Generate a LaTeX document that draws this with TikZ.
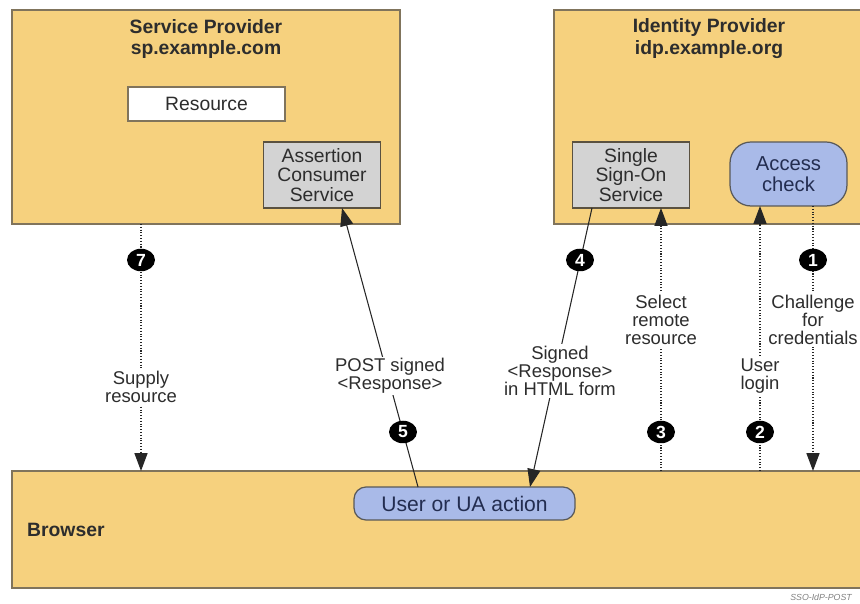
\documentclass[tikz,border=0pt]{standalone}
\usepackage{fontspec}
\setmainfont{Liberation Sans}
\usetikzlibrary{arrows.meta,shapes.geometric}
\definecolor{boxfill}{RGB}{246,209,126}
\definecolor{boxline}{RGB}{128,116,92}
\definecolor{svcfill}{RGB}{211,211,211}
\definecolor{actfill}{RGB}{169,186,232}
\definecolor{actink}{RGB}{35,45,80}
\definecolor{inkgray}{RGB}{45,45,45}

\begin{document}
\begin{tikzpicture}[x=0.02cm,y=-0.02cm,
  party/.style={draw=boxline,fill=boxfill,line width=0.7pt,inner sep=0pt,outer sep=0pt},
  heading/.style={font=\fontsize{11}{12.5}\selectfont\bfseries,text=inkgray,align=center},
  svc/.style={draw=boxline!70!black,fill=svcfill,line width=0.7pt,inner sep=0pt,outer sep=0pt,
    minimum width=2.34cm,minimum height=1.32cm,align=center,font=\fontsize{11}{11.3}\selectfont,text=inkgray},
  act/.style={draw=gray!70!black,fill=actfill,line width=0.7pt,inner sep=0pt,outer sep=0pt,
    align=center,text=actink},
  num/.style={ellipse,fill=black,text=white,font=\fontsize{10}{10}\selectfont\bfseries,
    inner sep=0pt,minimum width=0.56cm,minimum height=0.45cm},
  note/.style={fill=white,align=center,font=\fontsize{10.5}{10.3}\selectfont,text=inkgray,inner sep=1pt},
  msg/.style={line width=0.6pt,draw=black!85,-{Triangle[length=0.36cm,width=0.26cm]}},
  hop/.style={msg,densely dotted,line width=0.9pt}]

\useasboundingbox (0,0) rectangle (860,604);
\clip (0,0) rectangle (860,604);

\node[party,minimum width=7.76cm,minimum height=4.28cm] (sp) at (206,117) {};
\node[heading] (sptitle) at (206,39) {Service Provider\\sp.example.com};
\node[draw=boxline,fill=white,line width=0.7pt,minimum width=3.14cm,minimum height=0.68cm,
  inner sep=0pt,font=\fontsize{11}{11}\selectfont,text=inkgray] (res) at (206.5,104) {Resource};
\node[svc] (acs) at (322,175) {Assertion\\Consumer\\Service};

\node[party,minimum width=6.32cm,minimum height=4.28cm] (idp) at (712,117) {};
\node[heading] (idptitle) at (709,39) {Identity Provider\\idp.example.org};
\node[svc] (sso) at (631,175) {Single\\Sign-On\\Service};
\node[act,minimum width=2.34cm,minimum height=1.28cm,rounded corners=0.42cm,
  font=\fontsize{11.5}{12}\selectfont] (acc) at (788.5,174) {Access\\check};

\node[party,minimum width=17.16cm,minimum height=2.34cm] (browser) at (441,529.5) {};
\node[heading,anchor=west] (brtitle) at (21,530) {Browser};
\node[act,minimum width=4.42cm,minimum height=0.66cm,rounded corners=0.24cm,
  font=\fontsize{12}{12}\selectfont] (ua) at (464.5,503.5) {User or UA action};

\coordinate (x7) at (141,0);
\coordinate (b5) at (418,0);
\coordinate (t5) at (342,0);
\coordinate (t4) at (592,0);
\coordinate (b4) at (530,0);
\coordinate (x3) at (661,0);
\coordinate (x2) at (760,0);
\coordinate (x1) at (813,0);

\draw[hop] (sp.south -| x7) -- (browser.north -| x7);
\draw[msg] (ua.north -| b5) -- (acs.south -| t5);
\draw[msg] (sso.south -| t4) -- (ua.north -| b4);
\draw[hop] (browser.north -| x3) -- (sso.south -| x3);
\draw[hop] (browser.north -| x2) -- (acc.south -| x2);
\draw[hop] (acc.south -| x1) -- (browser.north -| x1);

\node[note] (l7) at (141,387) {Supply\\resource};
\node[note] (l5) at (390,376) {POST signed\\<Response>};
\node[note] (l4) at (560,371) {Signed\\<Response>\\in HTML form};
\node[note] (l3) at (661,320) {Select\\remote\\resource};
\node[note] (l2) at (760,376) {User\\login};
\node[note] (l1) at (813,320) {Challenge\\for\\credentials};

\node[num] (n7) at (141,260) {7};
\node[num] (n5) at (403,432) {5};
\node[num] (n4) at (580,260) {4};
\node[num] (n3) at (661,432) {3};
\node[num] (n2) at (760,432) {2};
\node[num] (n1) at (813,260) {1};

\node[anchor=east,font=\fontsize{5}{5}\selectfont\itshape,text=gray] (tag) at (858,597) {SSO-IdP-POST};
\end{tikzpicture}
\end{document}
